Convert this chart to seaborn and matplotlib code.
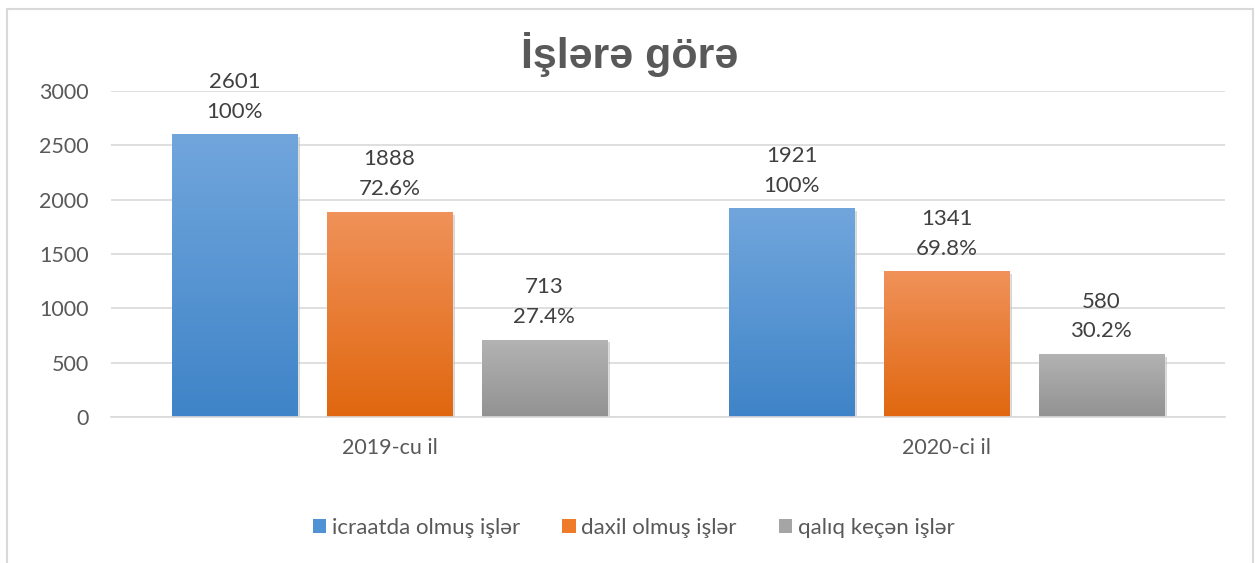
import numpy as np
import pandas as pd
import seaborn as sns
import matplotlib
matplotlib.use("Agg")
import matplotlib.pyplot as plt
from matplotlib.patches import Rectangle, Patch
from matplotlib.colors import LinearSegmentedColormap
import matplotlib.patheffects as pe

# ---- data ----
years = ["2019-cu il", "2020-ci il"]
series = ["icraatda olmuş işlər", "daxil olmuş işlər", "qalıq keçən işlər"]
icraatda = [2601, 1921]
daxil = [1888, 1341]
qaliq = [713, 580]
pct_icraatda = ["100%", "100%"]
pct_daxil = ["72.6%", "69.8%"]
pct_qaliq = ["27.4%", "30.2%"]
title = "İşlərə görə"
yticks = [0, 500, 1000, 1500, 2000, 2500, 3000]

colors_mid = ["#4f92d6", "#ee7a2a", "#a5a5a5"]
grad_top = ["#71a6dc", "#f0925a", "#b3b3b3"]
grad_bot = ["#3f84c8", "#e0670f", "#929292"]

rows = []
for s, vals, pcts in zip(series, [icraatda, daxil, qaliq], [pct_icraatda, pct_daxil, pct_qaliq]):
    for y, v, p in zip(years, vals, pcts):
        rows.append({"year": y, "series": s, "value": v, "pct": p})
df = pd.DataFrame(rows)

sns.set_theme(style="white")
plt.rcParams["font.family"] = ["Lato", "DejaVu Sans"]

fig = plt.figure(figsize=(12.55, 5.63), dpi=100)
ax = fig.add_axes([111 / 1255, 146 / 563, 1114 / 1255, 326 / 563])

sns.barplot(data=df, x="year", y="value", hue="series", order=years,
            hue_order=series, palette=colors_mid, width=0.834, gap=0.19,
            ax=ax, legend=False, saturation=1, errorbar=None)

ax.set_xlim(-0.5, 1.5)
ax.set_ylim(0, 3000)
ax.set_yticks(yticks)
ax.yaxis.grid(True, color="#d9d9d9", linewidth=1.2)
ax.set_axisbelow(True)
for sp in ["top", "right", "left"]:
    ax.spines[sp].set_visible(False)
ax.spines["bottom"].set_color("#d9d9d9")
ax.spines["bottom"].set_linewidth(1.2)
ax.tick_params(axis="y", length=0, pad=16, labelsize=15.5, labelcolor="#595959")
ax.tick_params(axis="x", length=0, pad=15, labelsize=15.5, labelcolor="#595959")
ax.set_xlabel("")
ax.set_ylabel("")

# gradients + shadow + labels
patches = [p for p in ax.patches if isinstance(p, Rectangle)]
for i, p in enumerate(patches):
    si = i // len(years)
    yi = i % len(years)
    x0, y0 = p.get_x(), p.get_y()
    w, h = p.get_width(), p.get_height()
    p.set_path_effects([pe.SimplePatchShadow(offset=(2, -2), shadow_rgbFace="#bbbbbb", alpha=0.6), pe.Normal()])
    cmap = LinearSegmentedColormap.from_list("g", [grad_bot[si], grad_top[si]])
    grad = np.linspace(0, 1, 256).reshape(-1, 1)
    im = ax.imshow(grad, cmap=cmap, aspect="auto", origin="lower",
                   extent=[x0, x0 + w, y0, y0 + h], zorder=p.get_zorder() + 0.1)
    im.set_clip_path(p)
    row = df[(df["series"] == series[si]) & (df["year"] == years[yi])].iloc[0]
    ax.annotate(f"{row['value']}\n{row['pct']}", (x0 + w / 2, y0 + h),
                xytext=(0, 9), textcoords="offset points", ha="center", va="bottom",
                fontsize=16, color="#404040", linespacing=1.62)

ax.set_xlim(-0.5, 1.5)
ax.set_ylim(0, 3000)

# title
fig.text(0.502, 0.903, title, ha="center", va="center", fontsize=31,
         fontweight="bold", color="#595959", family=["Liberation Sans", "DejaVu Sans"])

# legend
handles = [Patch(facecolor=c, edgecolor="none") for c in colors_mid]
fig.legend(handles, series, loc="center", bbox_to_anchor=(0.505, 0.062), ncol=3,
           frameon=False, fontsize=16, labelcolor="#595959", handlelength=0.6,
           handleheight=0.6, handletextpad=0.25, columnspacing=1.9)

# outer frame
fig.add_artist(Rectangle((7 / 1255, -0.1), 1246 / 1255, 1.1 - 9 / 563,
                         transform=fig.transFigure, fill=False, edgecolor="#d9d9d9",
                         linewidth=1.5))

fig.savefig("out.png", dpi=100, facecolor="white")
